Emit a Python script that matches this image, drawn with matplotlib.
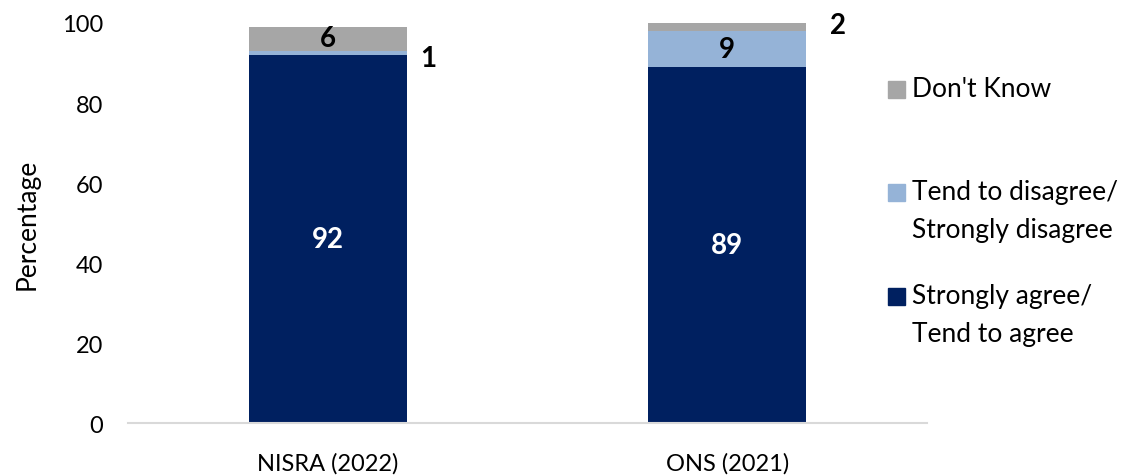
import matplotlib.pyplot as plt
from matplotlib.patches import Rectangle

plt.rcParams['font.family'] = ['Lato', 'DejaVu Sans']

sources = ['NISRA (2022)', 'ONS (2021)']
agree = [92, 89]
disagree = [1, 9]
dont_know = [6, 2]

navy = '#002060'
light_blue = '#95b3d7'
grey = '#a6a6a6'

fig = plt.figure(figsize=(11.25, 4.77), dpi=100)
ax = fig.add_axes([0.1138, 0.111, 0.7102, 0.8387])

x = list(range(len(sources)))
w = 0.395
ax.bar(x, agree, w, color=navy)
bottom2 = agree
ax.bar(x, disagree, w, bottom=bottom2, color=light_blue)
bottom3 = [a + d for a, d in zip(agree, disagree)]
ax.bar(x, dont_know, w, bottom=bottom3, color=grey)

fs_val = 20
for i in x:
    ax.text(i, agree[i] / 2, str(agree[i]), ha='center', va='center',
            color='white', fontsize=fs_val, fontweight='bold')

# NISRA: disagree too thin, label sits outside; don't know inside
ax.text(0 + w / 2 + 0.035, bottom2[0] + disagree[0] / 2 - 1.2, str(disagree[0]),
        ha='left', va='center', fontsize=fs_val, fontweight='bold')
ax.text(0, bottom3[0] + dont_know[0] / 2 + 0.3, str(dont_know[0]), ha='center', va='center',
        fontsize=fs_val, fontweight='bold')
# ONS: disagree inside, don't know outside
ax.text(1, bottom2[1] + disagree[1] / 2, str(disagree[1]), ha='center', va='center',
        fontsize=fs_val, fontweight='bold')
ax.text(1 + w / 2 + 0.06, bottom3[1] + dont_know[1] / 2 + 0.5, str(dont_know[1]),
        ha='left', va='center', fontsize=fs_val, fontweight='bold')

ax.set_xlim(-0.5, 1.5)
ax.set_ylim(0, 100)
ax.set_yticks(range(0, 101, 20))
ax.set_xticks(x)
ax.set_xticklabels(sources)
ax.tick_params(axis='both', length=0, labelsize=17, colors='black')
ax.tick_params(axis='y', pad=18)
ax.tick_params(axis='x', pad=21)
for s in ['top', 'right', 'left']:
    ax.spines[s].set_visible(False)
ax.spines['bottom'].set_color('#d9d9d9')
ax.spines['bottom'].set_linewidth(1.5)
ax.set_ylabel('Percentage', fontsize=19)
ax.yaxis.set_label_coords(-0.111, 0.5)

# legend drawn by hand so the swatch lines up with the first text line
W, H = 1125, 477
legend_items = [
    (grey, ["Don't Know"], 90),
    (light_blue, ['Tend to disagree/', 'Strongly disagree'], 193),
    (navy, ['Strongly agree/', 'Tend to agree'], 297),
]
sq = 17
for color, lines, yc in legend_items:
    fig.patches.append(Rectangle((888 / W, (H - yc - sq / 2) / H), sq / W, sq / H,
                                 transform=fig.transFigure, color=color))
    for k, line in enumerate(lines):
        fig.text(912 / W, (H - yc - k * 38) / H, line, ha='left', va='center', fontsize=19)

fig.savefig('out.png', dpi=100)
